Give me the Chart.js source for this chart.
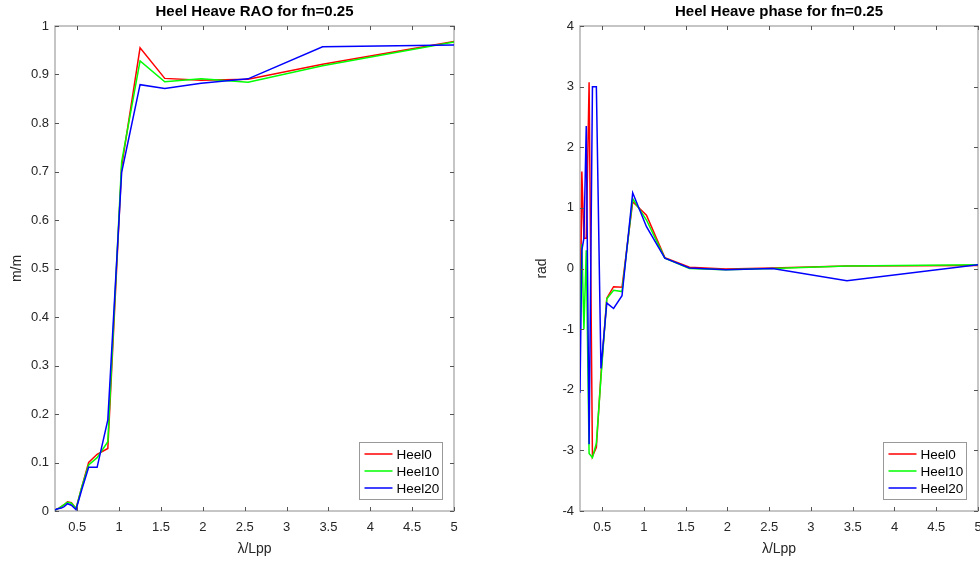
<!DOCTYPE html>
<html lang="en">
<head>
<meta charset="UTF-8">
<title>Heel Heave RAO and phase</title>
<script src="https://cdn.jsdelivr.net/npm/chart.js@4"></script>
<style>
  body { margin: 0; background: #fff; overflow: hidden; }
  .wrap { position: relative; width: 980px; height: 561px; }
  .wrap canvas { position: absolute; top: 0; }
</style>
</head>
<body>
<div class="wrap">
  <canvas id="raoChart" width="490" height="561" style="left:0"></canvas>
  <canvas id="phaseChart" width="490" height="561" style="left:490px"></canvas>
</div>

<script>
// wave length ratio lambda/Lpp
const lambda = [0.234, 0.256, 0.281, 0.309, 0.343, 0.383, 0.43, 0.485, 0.555, 0.636, 0.737, 0.865, 1.03, 1.25, 1.545, 1.98, 2.54, 3.43, 5.0];

// heave RAO (m/m)
const raoHeel0  = [0.002, 0.004, 0.006, 0.009, 0.013, 0.019, 0.017, 0.005, 0.05, 0.10, 0.117, 0.129, 0.71, 0.955, 0.892, 0.888, 0.890, 0.921, 0.968];
const raoHeel10 = [0.002, 0.004, 0.006, 0.009, 0.013, 0.018, 0.016, 0.005, 0.05, 0.095, 0.11, 0.143, 0.72, 0.928, 0.885, 0.891, 0.884, 0.918, 0.967];
const raoHeel20 = [0.002, 0.004, 0.005, 0.006, 0.009, 0.015, 0.012, 0.003, 0.045, 0.09, 0.09, 0.188, 0.698, 0.879, 0.871, 0.882, 0.891, 0.957, 0.961];

// heave phase (rad)
const phaseHeel0  = [-1.5, 1.6, 0.5, 0.5, 3.07, -3.1, -2.95, -1.75, -0.49, -0.3, -0.31, 1.1, 0.88, 0.18, 0.02, -0.01, 0.01, 0.04, 0.05];
const phaseHeel10 = [-1.0, 0.4, -1.0, 0.3, -3.05, -3.12, -2.88, -1.8, -0.5, -0.36, -0.38, 1.15, 0.8, 0.17, 0.0, -0.02, 0.0, 0.04, 0.06];
const phaseHeel20 = [-2.05, 0.3, 0.5, 2.35, -2.9, 3.0, 3.0, -1.65, -0.57, -0.66, -0.45, 1.25, 0.69, 0.17, 0.01, -0.02, 0.0, -0.2, 0.06];

const seriesNames = ['Heel0', 'Heel10', 'Heel20'];
const seriesColors = ['#ff0000', '#00ff00', '#0000ff'];

const xTicks = [0.5, 1, 1.5, 2, 2.5, 3, 3.5, 4, 4.5, 5];
const raoTicks = [0, 0.1, 0.2, 0.3, 0.4, 0.5, 0.6, 0.7, 0.8, 0.9, 1];
const phaseTicks = [-4, -3, -2, -1, 0, 1, 2, 3, 4];

const FONT = '"Liberation Sans", Arial, sans-serif';

// MATLAB-like axes box, inward ticks, title and legend
const matlabAxes = {
    id: 'matlabAxes',
    beforeDatasetsDraw(chart) {
        const { ctx, chartArea: a } = chart;
        ctx.save();
        ctx.strokeStyle = '#b3b3b3';
        ctx.lineWidth = 1.5;
        ctx.strokeRect(a.left, a.top, a.width, a.height);
        ctx.restore();
    },
    afterDatasetsDraw(chart, args, opts) {
        const { ctx, chartArea: a, scales } = chart;
        ctx.save();

        // ticks pointing inside
        ctx.strokeStyle = '#555';
        ctx.lineWidth = 1;
        ctx.beginPath();
        scales.x.ticks.forEach(t => {
            const px = Math.round(scales.x.getPixelForValue(t.value)) + 0.5;
            ctx.moveTo(px, a.bottom); ctx.lineTo(px, a.bottom - 4);
            ctx.moveTo(px, a.top); ctx.lineTo(px, a.top + 4);
        });
        scales.y.ticks.forEach(t => {
            const py = Math.round(scales.y.getPixelForValue(t.value)) + 0.5;
            ctx.moveTo(a.left, py); ctx.lineTo(a.left + 4, py);
            ctx.moveTo(a.right, py); ctx.lineTo(a.right - 4, py);
        });
        ctx.stroke();

        // title
        ctx.fillStyle = '#000';
        ctx.font = 'bold 15px ' + FONT;
        ctx.textAlign = 'center';
        ctx.textBaseline = 'middle';
        ctx.fillText(opts.text, (a.left + a.right) / 2, 12);

        // legend, lower right inside the axes
        const w = 83, h = 57;
        const bx = Math.round(a.right - 12 - w) + 0.5;
        const by = Math.round(a.bottom - 12 - h) + 0.5;
        ctx.fillStyle = '#fff';
        ctx.fillRect(bx, by, w, h);
        ctx.strokeStyle = '#999';
        ctx.lineWidth = 1;
        ctx.strokeRect(bx, by, w, h);
        ctx.font = '13.5px ' + FONT;
        ctx.textAlign = 'left';
        chart.data.datasets.forEach((ds, i) => {
            const ly = by + 11.5 + i * 17;
            ctx.strokeStyle = ds.borderColor;
            ctx.lineWidth = 1.5;
            ctx.beginPath();
            ctx.moveTo(bx + 5, ly);
            ctx.lineTo(bx + 33, ly);
            ctx.stroke();
            ctx.fillStyle = '#000';
            ctx.fillText(ds.label, bx + 37, ly + 1);
        });
        ctx.restore();
    }
};

function makeDatasets(seriesList) {
    return seriesList.map((vals, i) => ({
        label: seriesNames[i],
        data: lambda.map((x, k) => ({ x: x, y: vals[k] })),
        borderColor: seriesColors[i],
        backgroundColor: seriesColors[i],
        borderWidth: 1.5,
        pointRadius: 0,
        tension: 0,
        fill: false,
        order: 2 - i   // Heel20 on top, like MATLAB's plot order
    }));
}

function makeChart(id, cfg) {
    const ctx = document.getElementById(id).getContext('2d');
    return new Chart(ctx, {
        type: 'line',
        data: { datasets: makeDatasets(cfg.series) },
        plugins: [matlabAxes],
        options: {
            responsive: false,
            animation: false,
            layout: { padding: { top: 26, right: cfg.padRight, left: 0, bottom: 0 } },
            plugins: {
                legend: { display: false },
                tooltip: { enabled: false },
                matlabAxes: { text: cfg.title }
            },
            scales: {
                x: {
                    type: 'linear',
                    min: 0.234,
                    max: 5,
                    afterBuildTicks: s => { s.ticks = xTicks.map(v => ({ value: v })); },
                    afterFit: s => { s.height = 50; s.paddingLeft = 0; s.paddingRight = 0; },
                    grid: { display: false, drawTicks: false },
                    border: { display: false },
                    ticks: { color: '#262626', font: { family: FONT, size: 13 }, padding: 9, maxRotation: 0, callback: v => String(v) },
                    title: { display: true, text: 'λ/Lpp', color: '#262626', font: { family: FONT, size: 14 }, padding: { top: 0, bottom: 3 } }
                },
                y: {
                    type: 'linear',
                    min: cfg.yMin,
                    max: cfg.yMax,
                    afterBuildTicks: s => { s.ticks = cfg.yTicks.map(v => ({ value: v })); },
                    afterFit: s => { s.width = cfg.axisLeft; },
                    grid: { display: false, drawTicks: false },
                    border: { display: false },
                    ticks: { color: '#262626', font: { family: FONT, size: 13 }, padding: 6, callback: v => String(v) },
                    title: { display: true, text: cfg.yTitle, color: '#262626', font: { family: FONT, size: 14 }, padding: { top: cfg.yTitlePad, bottom: 0 } }
                }
            }
        }
    });
}

makeChart('raoChart', {
    series: [raoHeel0, raoHeel10, raoHeel20],
    title: 'Heel Heave RAO for fn=0.25',
    yTitle: 'm/m',
    yMin: 0, yMax: 1, yTicks: raoTicks,
    axisLeft: 55, padRight: 36, yTitlePad: 8.6
});

makeChart('phaseChart', {
    series: [phaseHeel0, phaseHeel10, phaseHeel20],
    title: 'Heel Heave phase for fn=0.25',
    yTitle: 'rad',
    yMin: -4, yMax: 4, yTicks: phaseTicks,
    axisLeft: 90, padRight: 2, yTitlePad: 43.6
});
</script>
</body>
</html>
